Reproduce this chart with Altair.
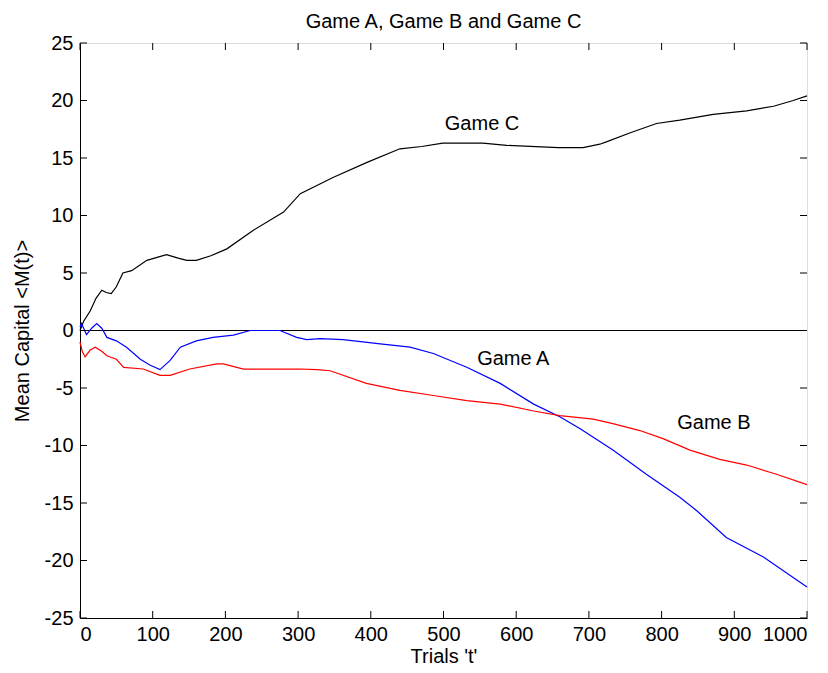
import altair as alt
import pandas as pd

# Game C (black)
c_t = [0, 5, 14, 22, 30, 36, 43, 50, 59, 71, 92, 119, 135, 147, 160, 180, 202, 238, 280, 303, 348, 394, 440, 470, 499, 554, 587, 658, 692, 715, 724, 757, 793, 825, 871, 917, 954, 981, 1000]
c_v = [0, 0.8, 1.7, 2.8, 3.5, 3.3, 3.2, 3.8, 5.0, 5.2, 6.1, 6.6, 6.3, 6.1, 6.1, 6.5, 7.1, 8.7, 10.3, 11.9, 13.3, 14.6, 15.8, 16.0, 16.3, 16.3, 16.1, 15.9, 15.9, 16.2, 16.4, 17.2, 18.0, 18.3, 18.8, 19.1, 19.5, 20.0, 20.4]

# Game A (blue)
a_t = [0, 2, 9, 16, 23, 30, 37, 50, 64, 83, 96, 110, 124, 138, 160, 183, 211, 234, 275, 298, 312, 330, 362, 413, 454, 486, 532, 578, 624, 660, 688, 733, 779, 825, 848, 889, 940, 1000]
a_v = [0.3, 0.6, -0.35, 0.2, 0.6, 0.2, -0.6, -0.9, -1.45, -2.5, -3.0, -3.4, -2.6, -1.45, -0.9, -0.6, -0.4, 0, 0, -0.6, -0.8, -0.7, -0.8, -1.16, -1.45, -2.0, -3.2, -4.6, -6.4, -7.5, -8.55, -10.4, -12.5, -14.5, -15.65, -18.0, -19.7, -22.3]

# Game B (red)
b_t = [0, 3, 7, 14, 21, 30, 37, 50, 60, 87, 110, 124, 151, 188, 197, 225, 303, 326, 344, 394, 440, 486, 532, 578, 624, 660, 706, 733, 770, 802, 839, 880, 917, 958, 1000]
b_v = [-1.0, -1.8, -2.3, -1.7, -1.45, -1.8, -2.2, -2.5, -3.2, -3.35, -3.9, -3.9, -3.35, -2.9, -2.9, -3.35, -3.35, -3.4, -3.5, -4.6, -5.2, -5.65, -6.1, -6.4, -7.0, -7.4, -7.7, -8.1, -8.7, -9.4, -10.4, -11.2, -11.7, -12.5, -13.4]

x_ticks = [0, 100, 200, 300, 400, 500, 600, 700, 800, 900, 1000]
y_ticks = [-25, -20, -15, -10, -5, 0, 5, 10, 15, 20, 25]

label_text = ["Game C", "Game A", "Game B"]
label_t = [553, 596, 872]
label_v = [18.0, -2.45, -8.0]

W, H = 727, 575
FONT = "Liberation Sans"
FS = 20

rows = []
for name, ts, vs in [("Game C", c_t, c_v), ("Game A", a_t, a_v), ("Game B", b_t, b_v)]:
    for t, v in zip(ts, vs):
        rows.append({"series": name, "t": t, "v": v})
df = pd.DataFrame(rows)

xs = alt.Scale(domain=[0, 1000], nice=False)
ys = alt.Scale(domain=[-25, 25], nice=False)

x_axis = alt.Axis(values=x_ticks, title="Trials 't'", grid=False, tickSize=0, labelPadding=6,
                  labelExpr="toString(datum.value)",
                  domainColor="black", labelColor="black", labelFont=FONT, labelFontSize=FS,
                  titleFont=FONT, titleFontSize=FS, titleFontWeight="normal", titleColor="black",
                  titlePadding=2)
y_axis = alt.Axis(values=y_ticks, title="Mean Capital <M(t)>", grid=False, tickSize=0, labelPadding=7,
                  labelExpr="toString(datum.value)",
                  domainColor="black", labelColor="black", labelFont=FONT, labelFontSize=FS,
                  titleFont=FONT, titleFontSize=FS, titleFontWeight="normal", titleColor="black",
                  titlePadding=12)

lines = alt.Chart(df).mark_line(strokeWidth=1.2).encode(
    x=alt.X("t:Q", scale=xs, axis=x_axis),
    y=alt.Y("v:Q", scale=ys, axis=y_axis),
    color=alt.Color("series:N", scale=alt.Scale(domain=["Game A", "Game B", "Game C"],
                                                 range=["#0000ff", "#ff0000", "#000000"]), legend=None),
    detail="series:N",
    order="t:Q",
)

zero = alt.Chart(pd.DataFrame({"v": [0]})).mark_rule(color="black", strokeWidth=1).encode(
    y=alt.Y("v:Q", scale=ys), x=alt.value(0), x2=alt.value(W))

xt = pd.DataFrame({"t": x_ticks})
yt = pd.DataFrame({"v": y_ticks})
TL = 7
xb = alt.Chart(xt).mark_rule(color="black").encode(x=alt.X("t:Q", scale=xs), y=alt.value(H), y2=alt.value(H - TL))
xtop = alt.Chart(xt).mark_rule(color="black").encode(x=alt.X("t:Q", scale=xs), y=alt.value(0), y2=alt.value(TL))
yl = alt.Chart(yt).mark_rule(color="black").encode(y=alt.Y("v:Q", scale=ys), x=alt.value(0), x2=alt.value(TL))
yr = alt.Chart(yt).mark_rule(color="black").encode(y=alt.Y("v:Q", scale=ys), x=alt.value(W), x2=alt.value(W - TL))

labels = alt.Chart(pd.DataFrame({"text": label_text, "t": label_t, "v": label_v})).mark_text(
    font=FONT, fontSize=FS, color="black", align="center", baseline="middle").encode(
    x=alt.X("t:Q", scale=xs), y=alt.Y("v:Q", scale=ys), text="text:N")

chart = alt.layer(zero, lines, xb, xtop, yl, yr, labels).properties(
    width=W, height=H,
    title=alt.TitleParams("Game A, Game B and Game C", font=FONT, fontSize=FS, fontWeight="normal",
                          color="black", offset=1),
    autosize=alt.AutoSizeParams(type="none"),
    padding={"left": 72, "top": 35, "right": 12, "bottom": 47},
).configure_view(stroke="black", strokeWidth=1).configure(background="white")

chart.save("out.html", embed_options={"renderer": "svg", "actions": False})
